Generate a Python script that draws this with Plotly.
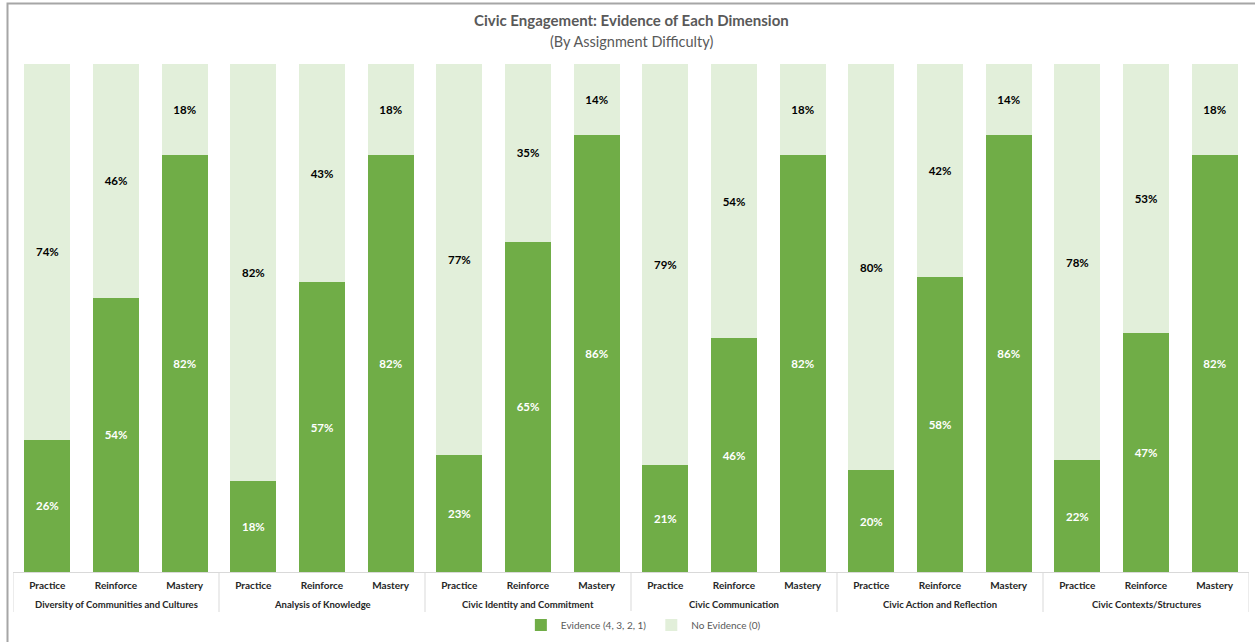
import plotly.graph_objects as go

# Dimensions of civic engagement and assignment difficulty levels
dimensions = [
    "Diversity of Communities and Cultures",
    "Analysis of Knowledge",
    "Civic Identity and Commitment",
    "Civic Communication",
    "Civic Action and Reflection",
    "Civic Contexts/Structures",
]
levels = ["Practice", "Reinforce", "Mastery"]

# Percent of artifacts per dimension/level (Practice, Reinforce, Mastery)
evidence = [
    [26, 54, 82],
    [18, 57, 82],
    [23, 65, 86],
    [21, 46, 82],
    [20, 58, 86],
    [22, 47, 82],
]
no_evidence = [
    [74, 46, 18],
    [82, 43, 18],
    [77, 35, 14],
    [79, 54, 18],
    [80, 42, 14],
    [78, 53, 18],
]

GREEN = "#70AD47"
LIGHT = "#E2EFDA"
GRID = "#D9D9D9"
FONT = "Lato"

W, H = 1255, 642
ML, MR, MT, MB = 13, 6, 64, 70
PW, PH = W - ML - MR, H - MT - MB


def py(px):
    """Pixel row -> paper y coordinate."""
    return (H - MB - px) / PH


def pxx(px):
    """Pixel column -> paper x coordinate."""
    return (px - ML) / PW


n_lv = len(levels)
positions = list(range(len(dimensions) * n_lv))
tick_text = [lv for _ in dimensions for lv in levels]
ev_vals = [v for row in evidence for v in row]
ne_vals = [v for row in no_evidence for v in row]

fig = go.Figure()
fig.add_trace(go.Bar(
    x=positions, y=ev_vals, name="Evidence (4, 3, 2, 1)",
    marker=dict(color=GREEN, line=dict(width=0)),
    text=[f"{v}%" for v in ev_vals], textposition="inside",
    insidetextanchor="middle", textangle=0,
    textfont=dict(family=FONT, size=11.5, color="white", weight="bold"),
    hoverinfo="skip",
))
fig.add_trace(go.Bar(
    x=positions, y=ne_vals, name="No Evidence (0)",
    marker=dict(color=LIGHT, line=dict(width=0)),
    text=[f"{v}%" for v in ne_vals], textposition="inside",
    insidetextanchor="middle", textangle=0,
    textfont=dict(family=FONT, size=11.5, color="#000000", weight="bold"),
    hoverinfo="skip",
))

annotations = [
    dict(text="Civic Engagement: Evidence of Each Dimension",
         xref="paper", yref="paper", x=0.5, y=py(20),
         xanchor="center", yanchor="middle", showarrow=False,
         font=dict(family=FONT, size=15, color="#595959", weight="bold")),
    dict(text="(By Assignment Difficulty)",
         xref="paper", yref="paper", x=0.5, y=py(41),
         xanchor="center", yanchor="middle", showarrow=False,
         font=dict(family=FONT, size=14.5, color="#595959")),
]
# Dimension names centred under each group of three bars
for i, d in enumerate(dimensions):
    annotations.append(dict(
        text=d, xref="x", yref="paper", x=i * n_lv + (n_lv - 1) / 2, y=py(605),
        xanchor="center", yanchor="middle", showarrow=False,
        font=dict(family=FONT, size=9.5, color="#262626", weight="bold"),
    ))

shapes = [
    # outer chart frame
    dict(type="rect", xref="paper", yref="paper",
         x0=pxx(7.5), x1=pxx(1262), y0=py(660), y1=py(3.5),
         line=dict(color="#A6A6A6", width=2), fillcolor="rgba(0,0,0,0)",
         layer="below"),
]
# group dividers below the axis
for k in range(len(dimensions) + 1):
    shapes.append(dict(
        type="line", xref="x", yref="paper",
        x0=k * n_lv - 0.5, x1=k * n_lv - 0.5, y0=0, y1=py(612),
        line=dict(color=GRID, width=1), layer="below",
    ))

fig.update_layout(
    width=W, height=H,
    barmode="stack", bargap=0.33,
    plot_bgcolor="white", paper_bgcolor="white",
    margin=dict(l=ML, r=MR, t=MT, b=MB, autoexpand=False),
    font=dict(family=FONT, color="#404040"),
    uniformtext=dict(minsize=11, mode="show"),
    showlegend=True,
    legend=dict(
        orientation="h", x=0.51, xanchor="center", y=py(625), yanchor="middle",
        font=dict(family=FONT, size=10, color="#595959"),
        itemwidth=30, traceorder="normal",
    ),
    xaxis=dict(
        range=[-0.5, len(positions) - 0.5], tickmode="array",
        tickvals=positions, ticktext=tick_text,
        showline=True, linecolor=GRID, linewidth=1,
        tickfont=dict(family=FONT, size=10, color="#262626", weight="bold"),
        ticks="", ticklabelstandoff=4, showgrid=False, zeroline=False,
        fixedrange=True, automargin=False,
    ),
    yaxis=dict(range=[0, 100], visible=False, showgrid=False, fixedrange=True),
    annotations=annotations,
    shapes=shapes,
)

fig.write_html("out.html")
